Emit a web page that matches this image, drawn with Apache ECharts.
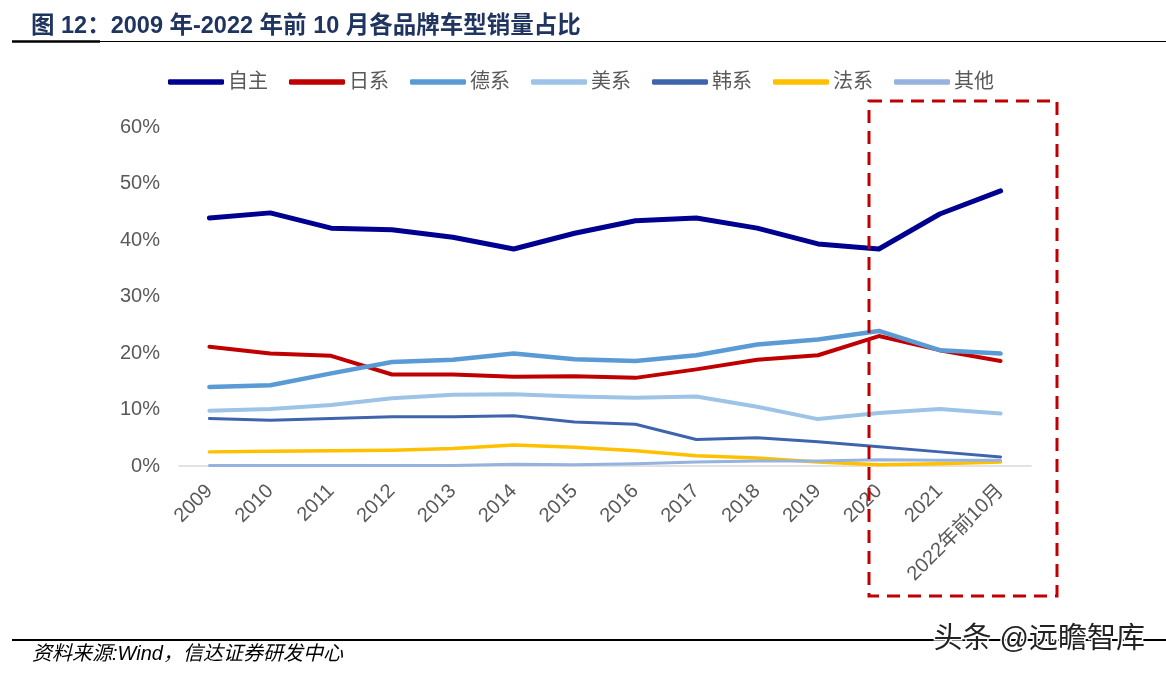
<!DOCTYPE html>
<html><head><meta charset="utf-8">
<script src="https://cdn.jsdelivr.net/npm/echarts@6/dist/echarts.min.js"></script>
<style>html,body{margin:0;padding:0;background:#fff}#c{width:1166px;height:678px}</style>
</head><body><div id="c"></div>
<script>
const categories = ['2009','2010','2011','2012','2013','2014','2015','2016','2017','2018','2019','2020','2021','2022年前10月'];
const ziZhu  = [43.9,44.8,42.1,41.8,40.5,38.4,41.2,43.4,43.9,42.1,39.3,38.4,44.6,48.7];
const riXi   = [21.1,19.9,19.5,16.2,16.2,15.8,15.9,15.6,17.1,18.8,19.6,23.0,20.5,18.6];
const deXi   = [14.0,14.3,16.4,18.4,18.8,19.9,18.9,18.6,19.6,21.5,22.4,23.9,20.5,19.9];
const meiXi  = [9.8,10.1,10.8,12.0,12.6,12.7,12.3,12.1,12.3,10.5,8.3,9.4,10.1,9.3];
const hanXi  = [8.4,8.1,8.4,8.7,8.7,8.9,7.8,7.4,4.7,5.0,4.3,3.4,2.5,1.6];
const faXi   = [2.5,2.6,2.7,2.8,3.1,3.7,3.3,2.7,1.8,1.4,0.7,0.2,0.4,0.7];
const qiTa   = [0.1,0.1,0.1,0.1,0.1,0.3,0.2,0.4,0.7,0.9,0.9,1.1,1.0,1.0];
const yTicks = [0,10,20,30,40,50,60];

const FONT = 'Liberation Sans, Arial, "Noto Sans CJK SC", sans-serif';
const chart = echarts.init(document.getElementById('c'));
function s(name, data, color, width){
  return {name, type:'line', data, symbol:'none', smooth:false,
    lineStyle:{color, width, cap:'round', join:'round'}, itemStyle:{color}};
}
chart.setOption({
  animation:false,
  textStyle:{fontFamily:FONT},
  legend:{
    left:163, top:67, icon:'roundRect', itemWidth:56, itemHeight:5.5, itemGap:21,
    textStyle:{fontSize:20, color:'#595959', fontFamily:FONT, padding:[0,0,0,-1]},
    data:['自主','日系','德系','美系','韩系','法系','其他']
  },
  grid:{left:179, right:135, top:127, bottom:212, containLabel:false},
  xAxis:{type:'category', data:categories, boundaryGap:true,
    axisLine:{lineStyle:{color:'#d9d9d9', width:1.5}}, axisTick:{show:false},
    axisLabel:{rotate:45, fontSize:20, color:'#595959', margin:22, interval:0, fontFamily:FONT}},
  yAxis:{type:'value', min:yTicks[0], max:yTicks[yTicks.length-1], interval:10,
    axisLine:{show:false}, axisTick:{show:false}, splitLine:{show:false},
    axisLabel:{formatter:'{value}%', fontSize:20, color:'#595959', margin:19, fontFamily:FONT}},
  series:[
    s('自主', ziZhu, '#000090', 5),
    s('日系', riXi, '#C00000', 4),
    s('德系', deXi, '#5B9BD5', 4.5),
    s('美系', meiXi, '#9DC3E6', 4),
    s('韩系', hanXi, '#3F64AE', 3),
    s('法系', faXi, '#FFC000', 3.5),
    s('其他', qiTa, '#95B3DE', 3)
  ],
  graphic:[
    {type:'text', left:31, top:15, style:{text:'图 12：2009 年-2022 年前 10 月各品牌车型销量占比', font:'bold 23.5px '+FONT, fill:'#1F3560'}},
    {type:'line', shape:{x1:12,y1:41.5,x2:100,y2:41.5}, style:{stroke:'#000', lineWidth:2.5}},
    {type:'line', shape:{x1:100,y1:41.5,x2:1166,y2:41.5}, style:{stroke:'#000', lineWidth:1.2}},
    {type:'line', shape:{x1:12,y1:640,x2:1166,y2:640}, style:{stroke:'#000', lineWidth:2}},
    {type:'text', left:32, top:644, style:{text:'资料来源:Wind，信达证券研发中心', font:'italic 20px '+FONT, fill:'#000'}},
    {type:'text', left:932, top:624, z:20, style:{text:'头条 @远瞻智库', font:'29px '+FONT, fill:'#222', stroke:'#fff', lineWidth:3}},
    {type:'rect', shape:{x:869, y:101, width:188, height:495}, z:10,
      style:{fill:'none', stroke:'#C00000', lineWidth:3, lineDash:[13,8]}}
  ]
});
</script></body></html>
